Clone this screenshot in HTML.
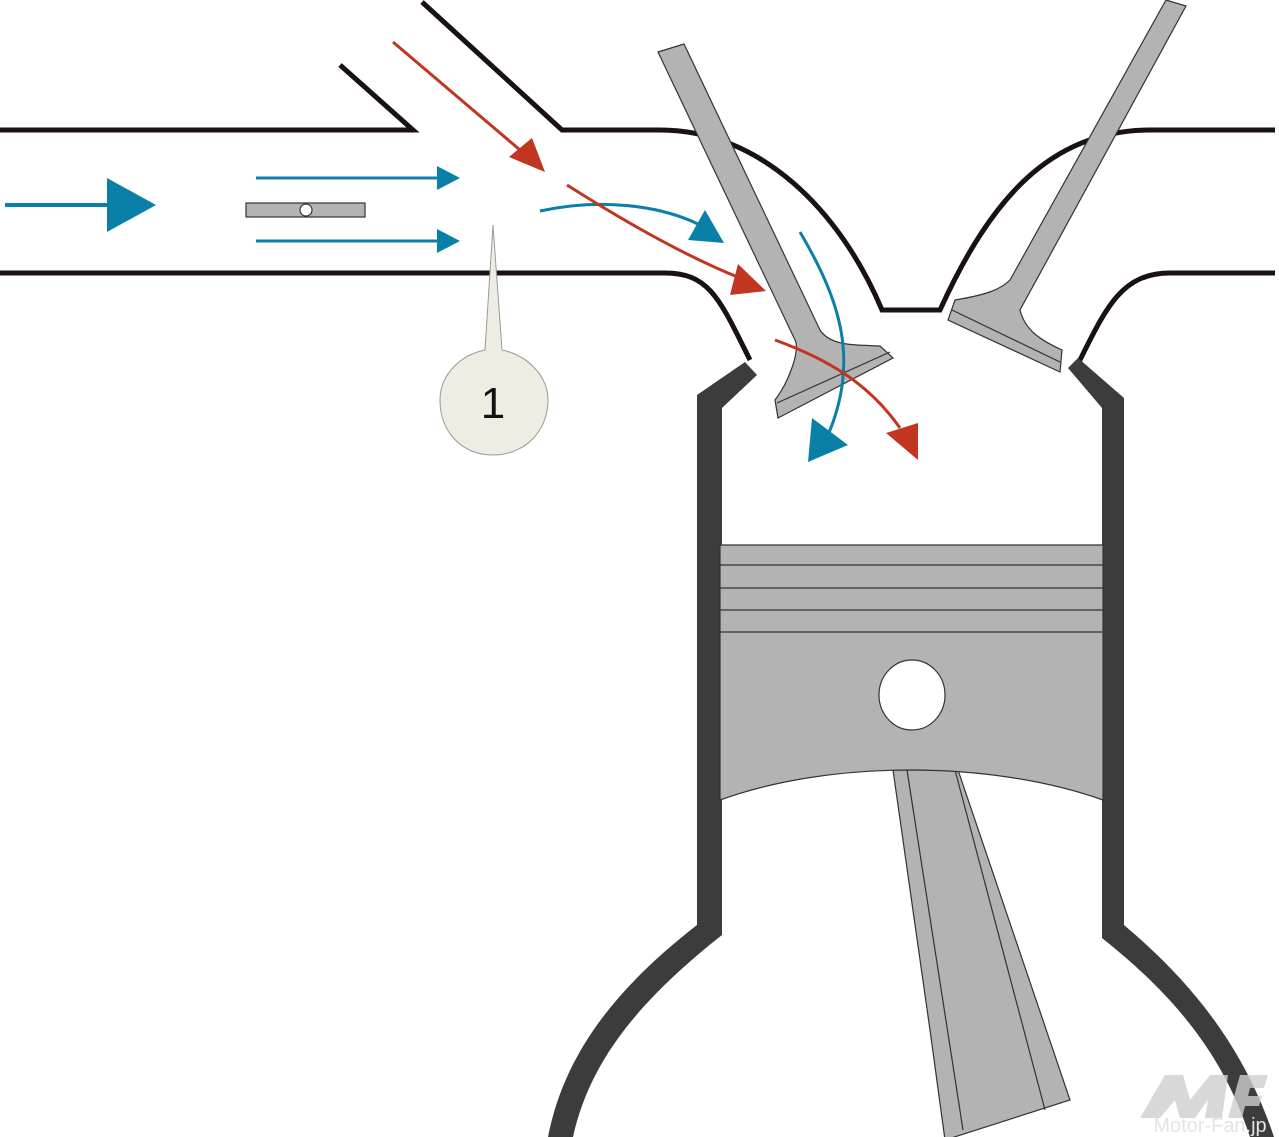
<!DOCTYPE html>
<html><head><meta charset="utf-8"><style>html,body{margin:0;padding:0;background:#fff}svg{display:block}</style></head>
<body>
<svg width="1279" height="1137" viewBox="0 0 1279 1137" xmlns="http://www.w3.org/2000/svg">
<g fill="none" stroke="#1a1111" stroke-width="5">
<path d="M0 130 H413 L340 65"/>
<path d="M422 2 L562 130 H660 C760 130 840 210 882 310 H940 C990 200 1050 130 1150 130 H1275"/>
<path d="M0 273 H665 C710 273 720 300 750 360"/>
<path d="M1275 273 H1170 C1120 273 1105 310 1076 368"/>
</g>
<g fill="#3c3c3c">
<path d="M745 362 L757 375 L722 408 V935 C640 1000 590 1060 573 1137 H548 C565 1050 620 985 697 925 V395 Z"/>
<path d="M1068 368 L1078 358 L1124 398 V925 C1195 985 1245 1050 1274 1137 H1250 C1225 1060 1180 1000 1102 938 V408 Z"/>
</g>
<g stroke="#333" stroke-width="1.2">
<path d="M893 770 L958 770 L1070 1100 L945 1140 L930 1030 Z" fill="#b3b3b3"/>
<path d="M907 770 L963 1130 M955 770 L1045 1110" fill="none"/>
<path d="M720 545 H1103 V800 C990 760 830 760 720 800 Z" fill="#b3b3b3"/>
<line x1="720" y1="565" x2="1103" y2="565"/><line x1="720" y1="588" x2="1103" y2="588"/>
<line x1="720" y1="610" x2="1103" y2="610"/><line x1="720" y1="632" x2="1103" y2="632"/>
<ellipse cx="912" cy="695" rx="33" ry="35" fill="#fff"/>
<path d="M658 52 L684 44 L820 330 C830 345 850 345 880 346 L893 358 L778 418 L775 400 C790 380 800 350 795 340 Z" fill="#b3b3b3"/>
<line x1="777" y1="403" x2="890" y2="352"/>
<path d="M1166 0 L1186 6 L1020 310 C1025 330 1040 340 1062 350 L1060 372 L948 320 L955 300 C985 295 1000 290 1010 280 Z" fill="#b3b3b3"/>
<line x1="952" y1="310" x2="1060" y2="362"/>
<rect x="246" y="203" width="119" height="14" fill="#b3b3b3"/>
<ellipse cx="306" cy="210" rx="6" ry="6" fill="#fff"/>
</g>
<g stroke="#0a7fa8" stroke-width="3" fill="none">
<line x1="5" y1="205" x2="110" y2="205" stroke-width="4"/>
<line x1="256" y1="178" x2="440" y2="178"/>
<line x1="256" y1="241" x2="440" y2="241"/>
<path d="M540 211 C600 198 660 205 700 225"/>
<path d="M800 232 C840 300 860 360 828 435"/>
</g>
<g fill="#0a7fa8">
<polygon points="107,178 156,205 107,232"/>
<polygon points="437,166 460,178 437,190"/>
<polygon points="437,229 460,241 437,253"/>
<polygon points="705,210 724,243 688,240"/>
<polygon points="812,418 808,462 848,445"/>
</g>
<g stroke="#c23520" stroke-width="3" fill="none">
<line x1="393" y1="42" x2="520" y2="150"/>
<path d="M567 185 C630 225 690 258 740 278"/>
<path d="M775 340 C830 360 870 385 900 428"/>
</g>
<g fill="#c23520">
<polygon points="509,157 532,138 545,172"/>
<polygon points="738,264 766,291 730,295"/>
<polygon points="886,433 918,423 918,460"/>
</g>
<path d="M493 225 L502 350 C530 356 548 378 548 400 C548 432 524 455 493 455 C462 455 440 432 440 400 C440 375 460 355 485 350 Z" fill="#efede3" stroke="#999" stroke-width="1"/>
<text x="493" y="418" font-family="Liberation Sans, sans-serif" font-size="44" text-anchor="middle" fill="#111">1</text>
<g fill="#cfcfcf" opacity="0.8">
<polygon points="1140,1118 1165,1075 1183,1075 1190,1100 1210,1075 1228,1075 1222,1118 1205,1118 1208,1100 1195,1118 1180,1118 1175,1100 1160,1118"/>
<polygon points="1228,1118 1240,1075 1268,1075 1264,1088 1250,1088 1248,1096 1262,1096 1259,1106 1245,1106 1242,1118"/>
</g>
<text x="1210" y="1132" font-family="Liberation Sans, sans-serif" font-size="20" fill="#e4e4e4" text-anchor="middle">Motor-Fan.jp</text>
</svg>
</body></html>
